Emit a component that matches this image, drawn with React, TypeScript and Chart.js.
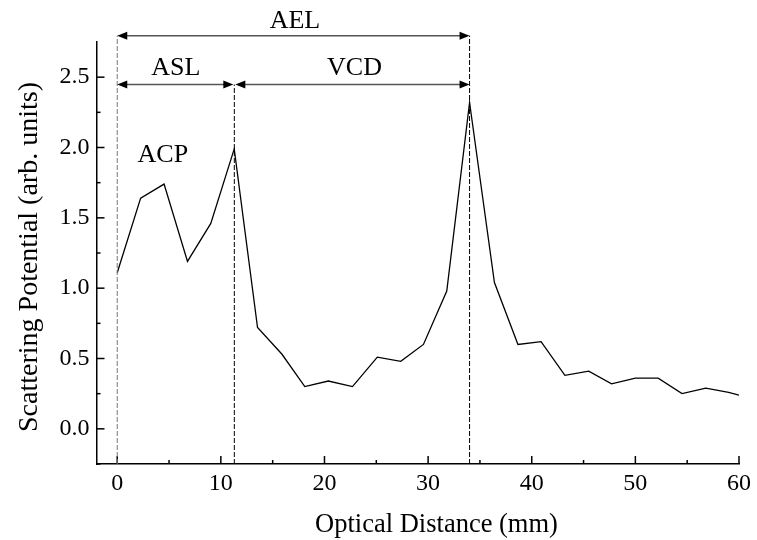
import React, { useEffect, useRef } from "react";
import { Chart, registerables } from "chart.js";

Chart.register(...registerables);

// Data
const distanceMm = [0, 2.26, 4.52, 6.78, 9.03, 11.29, 13.54, 15.9, 18.1, 20.37, 22.7, 25.1, 27.36, 29.55, 31.8, 34.0, 36.4, 38.67, 40.9, 43.2, 45.5, 47.7, 50.0, 52.2, 54.5, 56.8, 59.0, 60.0];
const scatteringPotential = [1.11, 1.64, 1.74, 1.19, 1.46, 1.99, 0.72, 0.53, 0.3, 0.34, 0.3, 0.51, 0.48, 0.6, 0.98, 2.32, 1.04, 0.6, 0.62, 0.38, 0.41, 0.32, 0.36, 0.36, 0.25, 0.29, 0.26, 0.24];

const xTicks = [0, 10, 20, 30, 40, 50, 60];
const yTicks = [0.0, 0.5, 1.0, 1.5, 2.0, 2.5];
const xMinorTicks = [5, 15, 25, 35, 45, 55];
const yMinorTicks = [-0.25, 0.25, 0.75, 1.25, 1.75, 2.25];

// Region boundaries (mm) and labels
const boundaryStart = 0;
const boundaryLens = 11.3;
const boundaryRetina = 34.0;
const regionLabels = ["AEL", "ASL", "VCD", "ACP"];

const X_TITLE = "Optical Distance (mm)";
const Y_TITLE = "Scattering Potential (arb. units)";
const FONT = "'Liberation Serif', 'DejaVu Serif', serif";

function arrowHead(ctx: CanvasRenderingContext2D, x: number, y: number, dir: number) {
  const len = 10;
  const half = 4;
  ctx.beginPath();
  ctx.moveTo(x, y);
  ctx.lineTo(x - dir * len, y - half);
  ctx.lineTo(x - dir * len, y + half);
  ctx.closePath();
  ctx.fill();
}

function hArrow(ctx: CanvasRenderingContext2D, x1: number, x2: number, y: number) {
  ctx.save();
  ctx.strokeStyle = "#555";
  ctx.lineWidth = 1.5;
  ctx.beginPath();
  ctx.moveTo(x1 + 4, y);
  ctx.lineTo(x2 - 4, y);
  ctx.stroke();
  ctx.fillStyle = "#000";
  arrowHead(ctx, x1, y, -1);
  arrowHead(ctx, x2, y, 1);
  ctx.restore();
}

const annotationPlugin = {
  id: "annotations",
  afterDraw(chart: any) {
    const { ctx, scales, chartArea } = chart;
    const xs = scales.x;
    const ys = scales.y;
    const px = (v: number) => xs.getPixelForValue(v);
    const py = (v: number) => ys.getPixelForValue(v);

    ctx.save();
    // inward ticks
    ctx.strokeStyle = "#000";
    ctx.lineWidth = 1.5;
    const bottom = chartArea.bottom;
    const left = chartArea.left;
    xTicks.forEach((v) => {
      const x = px(v);
      ctx.beginPath();
      ctx.moveTo(x, bottom);
      ctx.lineTo(x, bottom - 8);
      ctx.stroke();
    });
    xMinorTicks.forEach((v) => {
      const x = px(v);
      ctx.beginPath();
      ctx.moveTo(x, bottom);
      ctx.lineTo(x, bottom - 4);
      ctx.stroke();
    });
    yTicks.forEach((v) => {
      const y = py(v);
      ctx.beginPath();
      ctx.moveTo(left, y);
      ctx.lineTo(left + 8, y);
      ctx.stroke();
    });
    yMinorTicks.forEach((v) => {
      const y = py(v);
      ctx.beginPath();
      ctx.moveTo(left, y);
      ctx.lineTo(left + 4, y);
      ctx.stroke();
    });

    // dashed boundary lines
    const yAel = py(2.795);
    const yAsl = py(2.447);
    ctx.setLineDash([5, 2]);
    ctx.lineWidth = 1;
    ctx.strokeStyle = "#777";
    ctx.beginPath();
    ctx.moveTo(px(boundaryStart), bottom);
    ctx.lineTo(px(boundaryStart), yAel);
    ctx.stroke();
    ctx.strokeStyle = "#000";
    ctx.beginPath();
    ctx.moveTo(px(boundaryLens), bottom);
    ctx.lineTo(px(boundaryLens), yAsl);
    ctx.stroke();
    ctx.beginPath();
    ctx.moveTo(px(boundaryRetina), bottom);
    ctx.lineTo(px(boundaryRetina), yAel);
    ctx.stroke();
    ctx.setLineDash([]);

    // arrows
    hArrow(ctx, px(boundaryStart), px(boundaryRetina), yAel);
    hArrow(ctx, px(boundaryStart), px(boundaryLens) - 1, yAsl);
    hArrow(ctx, px(boundaryLens) + 1, px(boundaryRetina), yAsl);

    // labels
    ctx.fillStyle = "#000";
    ctx.font = `26px ${FONT}`;
    ctx.textAlign = "center";
    ctx.textBaseline = "alphabetic";
    ctx.fillText(regionLabels[0], px(17.15), py(2.85));
    ctx.fillText(regionLabels[1], px(5.65), py(2.518));
    ctx.fillText(regionLabels[2], px(22.9), py(2.518));
    ctx.fillText(regionLabels[3], px(4.4), py(1.9));

    // axis titles
    ctx.font = `26.5px ${FONT}`;
    ctx.fillText(X_TITLE, 436.5, 532);
    ctx.save();
    ctx.font = `28px ${FONT}`;
    ctx.translate(37, 257);
    ctx.rotate(-Math.PI / 2);
    ctx.fillText(Y_TITLE, 0, 0);
    ctx.restore();
    ctx.restore();
  },
};

export default function App() {
  const ref = useRef<HTMLCanvasElement | null>(null);
  useEffect(() => {
    document.body.style.margin = "0";
    const canvas = ref.current;
    if (!canvas) return;
    const points = distanceMm.map((x, i) => ({ x, y: scatteringPotential[i] }));
    const chart = new Chart(canvas, {
      type: "line",
      data: {
        datasets: [
          {
            data: points,
            borderColor: "#000",
            borderWidth: 1.3,
            pointRadius: 0,
            tension: 0,
            fill: false,
          },
        ],
      },
      options: {
        responsive: false,
        animation: false,
        maintainAspectRatio: false,
        layout: { padding: { top: 42, right: 18, left: 0, bottom: 0 } },
        plugins: { legend: { display: false }, tooltip: { enabled: false } },
        scales: {
          x: {
            type: "linear",
            min: -2,
            max: 60,
            afterFit: (s: any) => {
              s.height = 76;
            },
            afterBuildTicks: (s: any) => {
              s.ticks = xTicks.map((v) => ({ value: v }));
            },
            grid: { display: true, drawOnChartArea: false, drawTicks: false },
            border: { display: true, color: "#000", width: 1.5 },
            ticks: {
              padding: 5,
              color: "#000",
              font: { family: FONT, size: 24 },
              maxRotation: 0,
              callback: (v: any) => String(v),
            },
          },
          y: {
            type: "linear",
            min: -0.25,
            max: 2.75,
            afterFit: (s: any) => {
              s.width = 96.5;
            },
            afterBuildTicks: (s: any) => {
              s.ticks = yTicks.map((v) => ({ value: v }));
            },
            grid: { display: true, drawOnChartArea: false, drawTicks: false },
            border: { display: true, color: "#000", width: 1.5 },
            ticks: {
              padding: 7,
              color: "#000",
              font: { family: FONT, size: 24 },
              callback: (v: any) => Number(v).toFixed(1),
            },
          },
        },
      },
      plugins: [annotationPlugin],
    });
    return () => chart.destroy();
  }, []);
  return (
    <div style={{ position: "fixed", left: 0, top: 0, width: 757, height: 540 }}>
      <canvas ref={ref} width={757} height={540} style={{ width: 757, height: 540 }} />
    </div>
  );
}
